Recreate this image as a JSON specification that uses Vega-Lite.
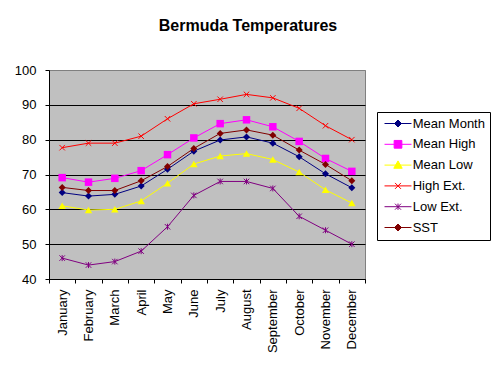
{
  "$schema": "https://vega.github.io/schema/vega-lite/v6.json",
  "autosize": {"type": "none"},
  "padding": {"left": 49, "top": 70, "right": 134, "bottom": 92},
  "width": 316,
  "height": 209,
  "background": "white",
  "title": {"text": "Bermuda Temperatures", "fontSize": 16, "fontWeight": "bold", "font": "Liberation Sans", "color": "black", "anchor": "middle", "frame": "group", "dx": 41, "baseline": "alphabetic", "offset": 17},
  "config": {
    "view": {"fill": "#C0C0C0", "stroke": "#808080", "strokeWidth": 1},
    "axis": {"labelFont": "Liberation Sans", "labelFontSize": 13, "labelColor": "black", "domainColor": "black", "tickColor": "black", "tickSize": 4, "tickWidth": 1, "domainWidth": 1}
  },
  "data": {"values": [
    {"month": "January", "series": "Mean Month", "value": 64.8},
    {"month": "February", "series": "Mean Month", "value": 63.8},
    {"month": "March", "series": "Mean Month", "value": 64.3},
    {"month": "April", "series": "Mean Month", "value": 66.7},
    {"month": "May", "series": "Mean Month", "value": 71.5},
    {"month": "June", "series": "Mean Month", "value": 76.7},
    {"month": "July", "series": "Mean Month", "value": 79.9},
    {"month": "August", "series": "Mean Month", "value": 80.8},
    {"month": "September", "series": "Mean Month", "value": 79.0},
    {"month": "October", "series": "Mean Month", "value": 75.1},
    {"month": "November", "series": "Mean Month", "value": 70.2},
    {"month": "December", "series": "Mean Month", "value": 66.2},
    {"month": "January", "series": "Mean High", "value": 69.1},
    {"month": "February", "series": "Mean High", "value": 67.8},
    {"month": "March", "series": "Mean High", "value": 68.9},
    {"month": "April", "series": "Mean High", "value": 71.1},
    {"month": "May", "series": "Mean High", "value": 75.7},
    {"month": "June", "series": "Mean High", "value": 80.5},
    {"month": "July", "series": "Mean High", "value": 84.6},
    {"month": "August", "series": "Mean High", "value": 85.7},
    {"month": "September", "series": "Mean High", "value": 83.7},
    {"month": "October", "series": "Mean High", "value": 79.5},
    {"month": "November", "series": "Mean High", "value": 74.6},
    {"month": "December", "series": "Mean High", "value": 70.9},
    {"month": "January", "series": "Mean Low", "value": 61.0},
    {"month": "February", "series": "Mean Low", "value": 59.8},
    {"month": "March", "series": "Mean Low", "value": 60.0},
    {"month": "April", "series": "Mean Low", "value": 62.4},
    {"month": "May", "series": "Mean Low", "value": 67.5},
    {"month": "June", "series": "Mean Low", "value": 73.0},
    {"month": "July", "series": "Mean Low", "value": 75.3},
    {"month": "August", "series": "Mean Low", "value": 76.0},
    {"month": "September", "series": "Mean Low", "value": 74.3},
    {"month": "October", "series": "Mean Low", "value": 70.7},
    {"month": "November", "series": "Mean Low", "value": 65.6},
    {"month": "December", "series": "Mean Low", "value": 61.8},
    {"month": "January", "series": "High Ext.", "value": 77.7},
    {"month": "February", "series": "High Ext.", "value": 79.0},
    {"month": "March", "series": "High Ext.", "value": 79.0},
    {"month": "April", "series": "High Ext.", "value": 81.0},
    {"month": "May", "series": "High Ext.", "value": 86.0},
    {"month": "June", "series": "High Ext.", "value": 90.3},
    {"month": "July", "series": "High Ext.", "value": 91.6},
    {"month": "August", "series": "High Ext.", "value": 93.0},
    {"month": "September", "series": "High Ext.", "value": 92.0},
    {"month": "October", "series": "High Ext.", "value": 89.0},
    {"month": "November", "series": "High Ext.", "value": 84.0},
    {"month": "December", "series": "High Ext.", "value": 80.0},
    {"month": "January", "series": "Low Ext.", "value": 46.0},
    {"month": "February", "series": "Low Ext.", "value": 44.0},
    {"month": "March", "series": "Low Ext.", "value": 45.0},
    {"month": "April", "series": "Low Ext.", "value": 48.0},
    {"month": "May", "series": "Low Ext.", "value": 55.0},
    {"month": "June", "series": "Low Ext.", "value": 64.0},
    {"month": "July", "series": "Low Ext.", "value": 68.0},
    {"month": "August", "series": "Low Ext.", "value": 68.0},
    {"month": "September", "series": "Low Ext.", "value": 66.0},
    {"month": "October", "series": "Low Ext.", "value": 58.0},
    {"month": "November", "series": "Low Ext.", "value": 54.0},
    {"month": "December", "series": "Low Ext.", "value": 50.0},
    {"month": "January", "series": "SST", "value": 66.3},
    {"month": "February", "series": "SST", "value": 65.4},
    {"month": "March", "series": "SST", "value": 65.4},
    {"month": "April", "series": "SST", "value": 68.2},
    {"month": "May", "series": "SST", "value": 72.3},
    {"month": "June", "series": "SST", "value": 77.5},
    {"month": "July", "series": "SST", "value": 81.8},
    {"month": "August", "series": "SST", "value": 82.8},
    {"month": "September", "series": "SST", "value": 81.3},
    {"month": "October", "series": "SST", "value": 77.0},
    {"month": "November", "series": "SST", "value": 72.9},
    {"month": "December", "series": "SST", "value": 68.2}
  ]},
  "encoding": {
    "x": {"field": "month", "type": "ordinal", "title": null,
      "sort": ["January", "February", "March", "April", "May", "June", "July", "August", "September", "October", "November", "December"],
      "scale": {"type": "band", "paddingInner": 0, "paddingOuter": 0},
      "axis": {"labelAngle": -90, "tickBand": "extent", "labelPadding": 6, "grid": false}},
    "y": {"field": "value", "type": "quantitative", "title": null,
      "scale": {"domain": [40, 100], "nice": false, "zero": false},
      "axis": {"values": [40, 50, 60, 70, 80, 90, 100], "labelPadding": 9, "grid": true, "gridWidth": 1, "gridOpacity": 1,
        "gridColor": {"condition": {"test": "datum.value === 100", "value": "#808080"}, "value": "black"}}}
  },
  "layer": [
    {"mark": {"type": "point", "filled": true, "opacity": 0, "size": 49, "strokeWidth": 1},
     "encoding": {
       "color": {"field": "series", "type": "nominal",
         "scale": {"domain": ["Mean Month", "Mean High", "Mean Low", "High Ext.", "Low Ext.", "SST"], "range": ["#000080", "#FF00FF", "#FFFF00", "#FF0000", "#800080", "#800000"]},
         "legend": {"orient": "none", "legendX": 328, "legendY": 42, "title": null, "strokeColor": "black", "fillColor": "white", "padding": 5,
           "symbolSize": 49, "symbolStrokeWidth": 1, "symbolOffset": 9.5, "labelOffset": 8.2, "labelFontSize": 13, "labelFont": "Liberation Sans", "labelColor": "black", "rowPadding": 6.8, "symbolOpacity": 1}},
       "stroke": {"field": "series", "type": "nominal",
         "scale": {"domain": ["Mean Month", "Mean High", "Mean Low", "High Ext.", "Low Ext.", "SST"], "range": ["#000080", "#FF00FF", "#FFFF00", "#FF0000", "#800080", "#800000"]},
         "legend": {"orient": "none", "legendX": 328, "legendY": 42, "title": null, "strokeColor": "black", "fillColor": "white", "padding": 5,
           "symbolSize": 49, "symbolStrokeWidth": 1, "symbolOffset": 9.5, "labelOffset": 8.2, "labelFontSize": 13, "labelFont": "Liberation Sans", "labelColor": "black", "rowPadding": 6.8, "symbolOpacity": 1}},
       "shape": {"field": "series", "type": "nominal",
         "scale": {"domain": ["Mean Month", "Mean High", "Mean Low", "High Ext.", "Low Ext.", "SST"],
           "range": ["M-3.85,0H3.85M0,-1L1,0L0,1L-1,0Z", "M-3.85,0H3.85M-1.1,-1.1H1.1V1.1H-1.1Z", "M-3.85,0H3.85M0,-1.2L1.2,0.9H-1.2Z", "M-3.85,0H3.85M-0.85,-0.85L0.85,0.85M-0.85,0.85L0.85,-0.85", "M-3.85,0H3.85M-0.85,-0.85L0.85,0.85M-0.85,0.85L0.85,-0.85M0,-0.9V0.9", "M-3.85,0H3.85M0,-1L1,0L0,1L-1,0Z"]},
         "legend": {"orient": "none", "legendX": 328, "legendY": 42, "title": null, "strokeColor": "black", "fillColor": "white", "padding": 5,
           "symbolSize": 49, "symbolStrokeWidth": 1, "symbolOffset": 9.5, "labelOffset": 8.2, "labelFontSize": 13, "labelFont": "Liberation Sans", "labelColor": "black", "rowPadding": 6.8, "symbolOpacity": 1}}
     }},
    {"transform": [{"filter": "datum.series === 'High Ext.'"}],
     "layer": [
       {"mark": {"type": "line", "strokeWidth": 1, "color": "#FF0000"}},
       {"mark": {"type": "point", "shape": "M-1,-1L1,1M-1,1L1,-1", "filled": false, "color": "#FF0000", "size": 30, "strokeWidth": 1, "opacity": 1}}
     ]},
    {"transform": [{"filter": "datum.series === 'Mean High'"}],
     "layer": [
       {"mark": {"type": "line", "strokeWidth": 1, "color": "#FF00FF"}},
       {"mark": {"type": "point", "shape": "square", "filled": true, "color": "#FF00FF", "size": 56, "opacity": 1}}
     ]},
    {"transform": [{"filter": "datum.series === 'Mean Low'"}],
     "layer": [
       {"mark": {"type": "line", "strokeWidth": 1, "color": "#FFFF00"}},
       {"mark": {"type": "point", "shape": "triangle-up", "filled": true, "color": "#FFFF00", "size": 56, "opacity": 1}}
     ]},
    {"transform": [{"filter": "datum.series === 'Low Ext.'"}],
     "layer": [
       {"mark": {"type": "line", "strokeWidth": 1, "color": "#800080"}},
       {"mark": {"type": "point", "shape": "M-1,-1L1,1M-1,1L1,-1M0,-1.1V1.1", "filled": false, "color": "#800080", "size": 30, "strokeWidth": 1, "opacity": 1}}
     ]},
    {"transform": [{"filter": "datum.series === 'Mean Month'"}],
     "layer": [
       {"mark": {"type": "line", "strokeWidth": 1, "color": "#000080"}},
       {"mark": {"type": "point", "shape": "diamond", "filled": true, "color": "#000080", "size": 49, "opacity": 1}}
     ]},
    {"transform": [{"filter": "datum.series === 'SST'"}],
     "layer": [
       {"mark": {"type": "line", "strokeWidth": 1, "color": "#800000"}},
       {"mark": {"type": "point", "shape": "diamond", "filled": true, "color": "#800000", "size": 49, "opacity": 1}}
     ]}
  ]
}
